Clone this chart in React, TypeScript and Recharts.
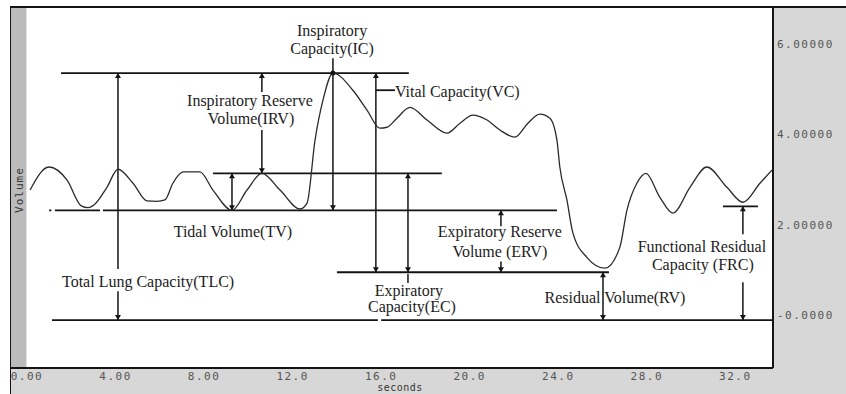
import React from 'react'
import {
  LineChart,
  Line,
  XAxis,
  YAxis,
  CartesianGrid,
  ReferenceLine,
  ReferenceDot,
  Label,
} from 'recharts'

// spirogram trace: time in seconds, lung volume in litres
const seconds = [
  0.14, 0.99, 1.81, 2.45, 2.76, 3.05, 3.61, 4.11, 4.79, 5.42, 5.87, 6.23, 6.59, 7.05, 7.81, 8.4, 9.26, 9.94,
  10.61, 11.43, 12.33, 12.65, 13.01, 13.37, 13.82, 14.72, 15.36, 15.94, 16.26, 16.71, 17.3, 18.07, 18.97,
  19.56, 20.14, 20.78, 21.36, 22.04, 22.63, 23.17, 23.62, 23.94, 24.07, 24.39, 24.66, 25.29, 26.11, 26.78,
  27.1, 27.55, 27.96, 28.59, 29.18, 29.95, 30.71, 31.62, 32.34, 33.11, 33.65,
]
const volume = [
  2.77, 3.28, 2.99, 2.42, 2.38, 2.45, 2.83, 3.23, 2.92, 2.53, 2.52, 2.55, 2.92, 3.17, 3.17, 2.77, 2.32, 2.77,
  3.14, 2.77, 2.35, 2.48, 3.87, 4.76, 5.36, 4.98, 4.54, 4.14, 4.16, 4.36, 4.6, 4.32, 4.03,
  4.25, 4.43, 4.32, 4.1, 3.94, 4.25, 4.45, 4.36, 3.87, 3.28, 2.55, 1.82, 1.28, 1.04, 1.5,
  2.32, 2.92, 3.14, 2.61, 2.26, 2.83, 3.28, 2.83, 2.5, 2.92, 3.21,
]

const timeTicks = [0, 4, 8, 12, 16, 20, 24, 28, 32]
const timeTickLabels = ['0.00', '4.00', '8.00', '12.0', '16.0', '20.0', '24.0', '28.0', '32.0']
const volumeTicks = [0, 2, 4, 6]
const volumeTickLabels = ['-0.0000', '2.00000', '4.00000', '6.00000']

// horizontal guide levels: [volume, from s, to s]
const levels: [number, number, number][] = [
  [5.36, 1.54, 17.25],
  [3.14, 8.4, 18.74],
  [2.32, 1.0, 1.1],
  [2.32, 1.26, 3.3],
  [2.32, 3.43, 23.94],
  [0.95, 14.0, 26.29],
  [-0.11, 1.13, 15.85],
  [-0.11, 16.0, 33.7],
  [2.41, 31.44, 33.02],
  [4.98, 15.76, 16.62],
]

// vertical measurement bars: [time, from volume, to volume]
const spans: [number, number, number][] = [
  [4.11, 5.36, 1.02],
  [4.11, 0.53, -0.11],
  [10.61, 5.36, 4.94],
  [10.61, 4.1, 3.14],
  [9.26, 3.14, 2.32],
  [13.82, 5.69, 2.32],
  [15.76, 5.36, 0.95],
  [17.21, 3.14, 0.95],
  [17.21, 0.91, 0.71],
  [21.41, 2.32, 1.97],
  [21.41, 1.19, 0.95],
  [26.02, 0.95, -0.11],
  [32.34, 2.41, 1.79],
  [32.34, 0.73, -0.11],
]

// arrow tips: [time, volume, direction]
const tips: [number, number, 'up' | 'down'][] = [
  [4.11, 5.36, 'up'],
  [4.11, -0.11, 'down'],
  [10.61, 5.36, 'up'],
  [10.61, 3.14, 'down'],
  [9.26, 3.14, 'up'],
  [9.26, 2.32, 'down'],
  [13.82, 2.32, 'down'],
  [15.76, 5.36, 'up'],
  [15.76, 0.95, 'down'],
  [17.21, 3.14, 'up'],
  [17.21, 0.95, 'down'],
  [21.41, 2.32, 'up'],
  [21.41, 0.95, 'down'],
  [26.02, 0.95, 'up'],
  [26.02, -0.11, 'down'],
  [32.34, 2.41, 'up'],
  [32.34, -0.11, 'down'],
]

// text annotations: [text, time, volume, anchored left?]
const notes: [string, number, number, boolean][] = [
  ['Inspiratory', 13.78, 6.31, false],
  ['Capacity(IC)', 13.78, 5.91, false],
  ['Inspiratory Reserve', 10.07, 4.76, false],
  ['Volume(IRV)', 10.12, 4.36, false],
  ['Vital Capacity(VC)', 16.62, 4.96, true],
  ['Tidal Volume(TV)', 9.3, 1.86, false],
  ['Expiratory Reserve', 21.36, 1.86, false],
  ['Volume (ERV)', 21.36, 1.42, false],
  ['Expiratory', 17.25, 0.55, false],
  ['Capacity(EC)', 17.39, 0.2, false],
  ['Total Lung Capacity(TLC)', 5.47, 0.75, false],
  ['Residual Volume(RV)', 26.56, 0.4, false],
  ['Functional Residual', 30.49, 1.53, false],
  ['Capacity (FRC)', 30.53, 1.13, false],
]

const trace = seconds.map((t, i) => ({ t, v: volume[i] }))

const INK = '#141414'
const MONO = { fontFamily: 'DejaVu Sans Mono', fontSize: 11, fill: '#555', letterSpacing: 1.5 }

const arrowHead = (dir: 'up' | 'down') => (p: any) => {
  const { cx, cy } = p
  const s = dir === 'up' ? 1 : -1
  return <path d={`M${cx},${cy} L${cx - 3},${cy + 5 * s} L${cx + 3},${cy + 5 * s} Z`} fill={INK} />
}

export default function App() {
  return (
    <div style={{ position: 'absolute', left: 0, top: 0, width: 846, height: 394, background: '#fff', overflow: 'hidden' }}>
      {/* gray frame around the plot */}
      <div
        style={{
          position: 'absolute',
          left: 10,
          top: 6,
          width: 836,
          height: 388,
          boxSizing: 'border-box',
          background: '#d7d7d7',
          borderLeft: `1px solid ${INK}`,
          borderTop: `2px solid ${INK}`,
        }}
      />
      <div style={{ position: 'absolute', left: 11, top: 8, width: 15, height: 360, background: '#bbbbbb', borderRight: '1px solid #e2e2e2' }} />
      <div style={{ position: 'absolute', left: 10, top: 367, width: 18, height: 2, background: INK }} />
      <div
        style={{
          position: 'absolute',
          left: 19,
          top: 190,
          transform: 'translate(-50%, -50%) rotate(-90deg)',
          fontFamily: 'DejaVu Sans Mono',
          fontSize: 11,
          letterSpacing: 1,
          color: '#333',
          whiteSpace: 'nowrap',
        }}
      >
        Volume
      </div>

      <LineChart width={846} height={394} data={trace} margin={{ top: 8, right: 0, bottom: 0, left: 27 }} style={{ position: 'absolute', left: 0, top: 0 }}>
        <CartesianGrid horizontal={false} vertical={false} fill="#fff" />
        <XAxis
          type="number"
          dataKey="t"
          domain={[0, 33.7]}
          ticks={timeTicks}
          tickFormatter={(v: number) => timeTickLabels[timeTicks.indexOf(v)]}
          allowDataOverflow
          height={26}
          tickLine={false}
          tickSize={0}
          tickMargin={4}
          axisLine={{ stroke: INK, strokeWidth: 2 }}
          tick={MONO}
        >
          <Label value="seconds" position="insideBottom" offset={3} style={{ ...MONO, fontSize: 10, fill: '#333', letterSpacing: 0.5 }} />
        </XAxis>
        <YAxis
          type="number"
          orientation="right"
          domain={[-1.17, 6.8]}
          ticks={volumeTicks}
          tickFormatter={(v: number) => volumeTickLabels[volumeTicks.indexOf(v)]}
          allowDataOverflow
          width={73}
          tickLine={false}
          tickSize={0}
          tickMargin={4}
          axisLine={{ stroke: INK, strokeWidth: 2 }}
          tick={{ ...MONO, textAnchor: 'start' }}
        />

        {levels.map(([v, a, b], i) => (
          <ReferenceLine key={`h${i}`} segment={[{ x: a, y: v }, { x: b, y: v }]} stroke={INK} strokeWidth={1.8} />
        ))}
        {spans.map(([t, a, b], i) => (
          <ReferenceLine key={`s${i}`} segment={[{ x: t, y: a }, { x: t, y: b }]} stroke={INK} strokeWidth={1.5} />
        ))}
        {tips.map(([t, v, dir], i) => (
          <ReferenceDot key={`a${i}`} x={t} y={v} r={3} shape={arrowHead(dir)} />
        ))}
        <ReferenceDot x={13.82} y={5.36} r={2.5} fill={INK} stroke="none" />

        <Line type="monotone" dataKey="v" stroke="#2a2a2a" strokeWidth={1.3} dot={false} isAnimationActive={false} />

        {notes.map(([text, t, v, left], i) => (
          <ReferenceDot
            key={`n${i}`}
            x={t}
            y={v}
            r={0}
            fill="none"
            stroke="none"
            label={{
              value: text,
              position: left ? 'right' : 'center',
              offset: 0,
              fill: '#1c1c1c',
              fontSize: 16,
              fontFamily: 'Liberation Serif',
            }}
          />
        ))}
      </LineChart>
    </div>
  )
}
